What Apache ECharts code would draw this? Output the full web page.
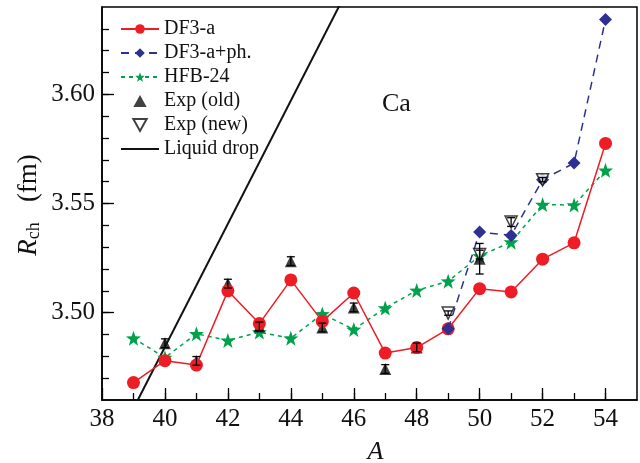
<!DOCTYPE html>
<html>
<head>
<meta charset="utf-8">
<script src="https://cdn.jsdelivr.net/npm/echarts@6/dist/echarts.min.js"></script>
<style>
  html, body { margin: 0; padding: 0; background: #fff; }
  #chart { width: 640px; height: 463px; }
</style>
</head>
<body>
<div id="chart"></div>
<script>
// mass numbers
const massDF3 = [39, 40, 41, 42, 43, 44, 45, 46, 47, 48, 49, 50, 51, 52, 53, 54];
const rDF3 = [3.468, 3.478, 3.476, 3.510, 3.495, 3.515, 3.496, 3.509, 3.4815, 3.484, 3.4926, 3.511, 3.5095, 3.5245, 3.532, 3.5775];

const massPh = [49, 50, 51, 52, 53, 54];
const rPh = [3.4926, 3.5369, 3.5354, 3.5609, 3.5685, 3.6343];

const massHFB = [39, 40, 41, 42, 43, 44, 45, 46, 47, 48, 49, 50, 51, 52, 53, 54];
const rHFB = [3.4883, 3.4794, 3.4903, 3.4873, 3.4911, 3.4883, 3.4994, 3.4923, 3.5021, 3.5102, 3.5144, 3.526, 3.5323, 3.5495, 3.5493, 3.5652];

const massOld = [40, 41, 42, 43, 44, 45, 46, 47, 48, 50];
const rOld = [3.486, 3.4779, 3.5133, 3.4937, 3.5236, 3.4932, 3.5024, 3.4742, 3.4841, 3.5247];
const errOld = [0.002, 0.002, 0.002, 0.002, 0.002, 0.002, 0.002, 0.002, 0.002, 0.007];

const massNew = [49, 50, 51, 52];
const rNew = [3.4998, 3.5266, 3.5415, 3.5609];
const errNew = [0.001, 0.002, 0.002, 0.001];

// liquid drop line ends
const massLD = [39, 46];
const rLD = [3.4561, 3.6535];

const xLabels = [38, 40, 42, 44, 46, 48, 50, 52, 54];
const yLabels = [3.50, 3.55, 3.60];

const zip = (a, b) => a.map((v, i) => [v, b[i]]);

const xMinor = [];
for (let a = 39; a <= 54; a++) xMinor.push(a);
const yMinor = [];
for (let k = 47; k <= 63; k++) yMinor.push(+(3 + k / 100).toFixed(2));

const serif = 'Liberation Serif';
const triUp = 'path://M0,-1L1,0.8L-1,0.8Z';
const triDown = 'path://M-1,-0.8L1,-0.8L0,1Z';
const starPath = 'path://M0,-10L2.35,-3.24L9.51,-3.09L3.8,1.24L5.88,8.09L0,4L-5.88,8.09L-3.8,1.24L-9.51,-3.09L-2.35,-3.24Z';

const chart = echarts.init(document.getElementById('chart'));

function errItem(params, api) {
  const a = api.value(0), lo = api.value(1), hi = api.value(2);
  const p1 = api.coord([a, lo]);
  const p2 = api.coord([a, hi]);
  const w = 4;
  const st = { stroke: '#000', lineWidth: 1.3 };
  return {
    type: 'group',
    children: [
      { type: 'line', shape: { x1: p1[0], y1: p1[1], x2: p2[0], y2: p2[1] }, style: st },
      { type: 'line', shape: { x1: p1[0] - w, y1: p1[1], x2: p1[0] + w, y2: p1[1] }, style: st },
      { type: 'line', shape: { x1: p2[0] - w, y1: p2[1], x2: p2[0] + w, y2: p2[1] }, style: st }
    ]
  };
}

const errData = massOld.map((a, i) => [a, rOld[i] - errOld[i], rOld[i] + errOld[i]])
  .concat(massNew.map((a, i) => [a, rNew[i] - errNew[i], rNew[i] + errNew[i]]));

const option = {
  animation: false,
  backgroundColor: '#fff',
  textStyle: { fontFamily: serif },
  grid: {
    left: 102, top: 7, right: 3, bottom: 63, show: true, borderColor: '#000', borderWidth: 1.5,
    containLabel: false, outerBoundsMode: 'none'
  },
  xAxis: [{
    type: 'value', min: 38, max: 55, interval: 1,
    axisLine: { lineStyle: { color: '#000', width: 1.5 } },
    axisTick: { inside: true, length: 7, customValues: xMinor, lineStyle: { color: '#000', width: 1.3 } },
    axisLabel: { customValues: xLabels, color: '#111', fontSize: 25, fontFamily: serif, margin: 7 },
    splitLine: { show: false },
    name: 'A', nameLocation: 'middle', nameGap: 39,
    nameTextStyle: { fontSize: 26, fontStyle: 'italic', fontFamily: serif, color: '#111', padding: [0, 0, 0, 12] }
  }, {
    type: 'value', min: 38, max: 55, interval: 1, position: 'bottom',
    axisLine: { show: false },
    axisTick: { inside: true, length: 12, customValues: xLabels, lineStyle: { color: '#000', width: 1.3 } },
    axisLabel: { show: false },
    splitLine: { show: false }
  }],
  yAxis: [{
    type: 'value', min: 3.46, max: 3.64, interval: 0.01,
    axisLine: { show: true, lineStyle: { color: '#000', width: 1.5 } },
    axisTick: { show: true, inside: true, length: 7, customValues: yMinor, lineStyle: { color: '#000', width: 1.3 } },
    axisLabel: { customValues: yLabels, formatter: v => v.toFixed(2), color: '#111', fontSize: 25, fontFamily: serif, margin: 7 },
    splitLine: { show: false }
  }, {
    type: 'value', min: 3.46, max: 3.64, interval: 0.01, position: 'left',
    axisLine: { show: false },
    axisTick: { show: true, inside: true, length: 12, customValues: yLabels, lineStyle: { color: '#000', width: 1.3 } },
    axisLabel: { show: false },
    splitLine: { show: false }
  }],
  legend: {
    orient: 'vertical', left: 115, top: 14, itemGap: 4, itemWidth: 38, itemHeight: 12,
    symbolKeepAspect: true,
    textStyle: { fontSize: 20, fontFamily: serif, color: '#111', lineHeight: 20 },
    data: [
      'DF3-a', 'DF3-a+ph.', 'HFB-24',
      { name: 'Exp (old)', icon: triUp },
      { name: 'Exp (new)', icon: triDown },
      { name: 'Liquid drop', icon: 'path://M0,0L38,0L38,2L0,2Z' }
    ]
  },
  graphic: [
    { type: 'text', left: 382, top: 91, style: { text: 'Ca', font: '26px "Liberation Serif"', fill: '#111' } },
    {
      type: 'text', x: 29, y: 205, rotation: Math.PI / 2,
      style: {
        text: '{i|R}{s|ch}   (fm)',
        align: 'center', verticalAlign: 'middle',
        rich: {
          i: { fontSize: 27, fontStyle: 'italic', fontFamily: serif, fill: '#111' },
          s: { fontSize: 18, fontFamily: serif, fill: '#111', padding: [11, 0, 0, 0] }
        },
        font: '27px "Liberation Serif"', fill: '#111'
      }
    }
  ],
  series: [
    {
      name: 'Liquid drop', type: 'line', data: zip(massLD, rLD), showSymbol: false, symbol: 'none',
      lineStyle: { color: '#111', width: 2 }, itemStyle: { color: '#111' }, z: 1
    },
    {
      name: 'HFB-24', type: 'line', data: zip(massHFB, rHFB), symbol: starPath, symbolSize: 15,
      lineStyle: { color: '#00a14b', width: 1.5, type: [4, 4] }, itemStyle: { color: '#00a14b' }, z: 2
    },
    {
      name: 'Exp (old)', type: 'scatter', data: zip(massOld, rOld), symbol: triUp, symbolSize: 12,
      itemStyle: { color: '#111' }, z: 3
    },
    {
      name: 'DF3-a', type: 'line', data: zip(massDF3, rDF3), symbol: 'circle', symbolSize: 13,
      lineStyle: { color: '#ee1c25', width: 1.5 }, itemStyle: { color: '#ee1c25' }, z: 4
    },
    {
      name: 'DF3-a+ph.', type: 'line', data: zip(massPh, rPh), symbol: 'diamond', symbolSize: 13,
      lineStyle: { color: '#2e3192', width: 1.5, type: [8, 6] }, itemStyle: { color: '#2e3192' }, z: 5
    },
    {
      name: 'Exp (new)', type: 'scatter', data: zip(massNew, rNew), symbol: triDown, symbolSize: 12,
      itemStyle: { color: '#fff', borderColor: '#111', borderWidth: 1.5 }, z: 6
    },
    {
      name: 'err', type: 'custom', data: errData, renderItem: errItem, z: 7
    }
  ]
};

chart.setOption(option);
</script>
</body>
</html>
